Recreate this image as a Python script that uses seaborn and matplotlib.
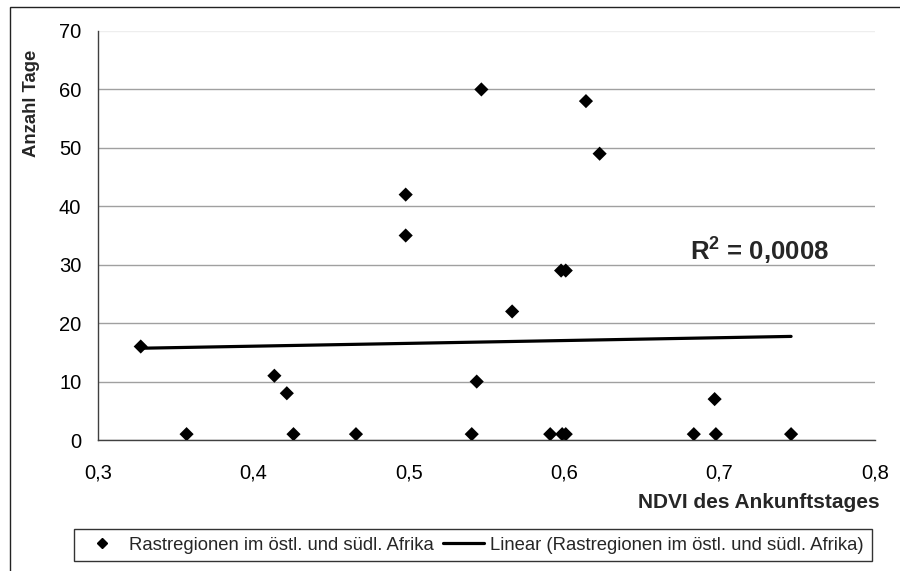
import numpy as np
import pandas as pd
import matplotlib
matplotlib.use("Agg")
import matplotlib.pyplot as plt
from matplotlib.ticker import FuncFormatter
from matplotlib.lines import Line2D
from matplotlib.patches import Rectangle
import seaborn as sns

# NDVI on the day of arrival and number of days spent in each resting region
ndvi = [0.3275, 0.357, 0.4135, 0.4215, 0.4258, 0.466, 0.498, 0.498,
        0.5405, 0.5437, 0.5467, 0.5665, 0.591, 0.598, 0.601, 0.5987,
        0.601, 0.614, 0.6228, 0.6834, 0.6968, 0.6976, 0.746]
tage = [16, 1, 11, 8, 1, 1, 42, 35,
        1, 10, 60, 22, 1, 29, 29, 1,
        1, 58, 49, 1, 7, 1, 1]

x_ticks = [0.3, 0.4, 0.5, 0.6, 0.7, 0.8]
y_ticks = [0, 10, 20, 30, 40, 50, 60, 70]

series_name = "Rastregionen im östl. und südl. Afrika"
trend_name = "Linear (Rastregionen im östl. und südl. Afrika)"
r2_text = "R$^\\mathbf{2}$ = 0,0008"

df = pd.DataFrame({"ndvi": ndvi, "tage": tage})

sns.set_theme(style="white")
plt.rcParams["font.family"] = ["Liberation Sans", "DejaVu Sans"]
plt.rcParams["mathtext.fontset"] = "custom"
plt.rcParams["mathtext.rm"] = "Liberation Sans"
plt.rcParams["mathtext.bf"] = "Liberation Sans:bold"

W, H = 900, 571
fig = plt.figure(figsize=(W / 100, H / 100), dpi=100)
ax = fig.add_axes([98 / W, 1 - 440 / H, 777 / W, 409 / H])

sns.scatterplot(data=df, x="ndvi", y="tage", marker="D", s=52,
                color="black", edgecolor="none", ax=ax, zorder=4)
sns.regplot(data=df, x="ndvi", y="tage", scatter=False, ci=None,
            truncate=True, color="black", line_kws={"lw": 2.3},
            ax=ax)

ax.set_xlim(0.3, 0.8)
ax.set_ylim(0, 70)
ax.set_xticks(x_ticks)
ax.set_yticks(y_ticks)
ax.xaxis.set_major_formatter(FuncFormatter(lambda v, p: f"{v:.1f}".replace(".", ",")))
ax.yaxis.set_major_formatter(FuncFormatter(lambda v, p: f"{v:.0f}"))
ax.set_xlabel("")
ax.set_ylabel("")

ax.yaxis.grid(True, color="#a0a0a0", lw=1.0)
ax.xaxis.grid(False)
ax.get_ygridlines()[-1].set_color("#eeeeee")
ax.set_axisbelow(True)

for side in ("top", "right"):
    ax.spines[side].set_visible(False)
for side in ("left", "bottom"):
    ax.spines[side].set_color("#404040")
    ax.spines[side].set_linewidth(1.0)

ax.tick_params(axis="both", direction="out", length=5, width=1,
               color="#404040", labelsize=14.5, labelcolor="black")
ax.tick_params(axis="x", pad=12)
ax.tick_params(axis="y", pad=7)

# Axis titles
fig.text(880 / W, 1 - 503 / H, "NDVI des Ankunftstages", ha="right",
         va="center", fontsize=15, fontweight="bold")
fig.text(32 / W, 1 - 103 / H, "Anzahl Tage", ha="center", va="center",
         rotation=90, fontsize=13.3, fontweight="bold")

# Coefficient of determination
fig.text(690 / W, 1 - 250 / H, r2_text, ha="left", va="center",
         fontsize=18.5, fontweight="bold")

# Legend
handles = [
    Line2D([], [], marker="D", ls="none", color="black", markersize=5.5),
    Line2D([], [], color="black", lw=2.3),
]
leg = fig.legend(handles, [series_name, trend_name], ncol=2,
                 loc="center", bbox_to_anchor=(473 / W, 1 - 545 / H),
                 fontsize=13.3, frameon=True, fancybox=False,
                 edgecolor="black", handlelength=2.2, handletextpad=0.35,
                 columnspacing=0.5, borderpad=0.42)
leg.get_frame().set_linewidth(1.0)

# Outer chart border
fig.patches.append(Rectangle((10 / W, -0.5), 2.0, 1 - 7 / H + 0.5,
                             transform=fig.transFigure, fill=False,
                             edgecolor="#222222", lw=1.0))

fig.savefig("out.png", dpi=100)
